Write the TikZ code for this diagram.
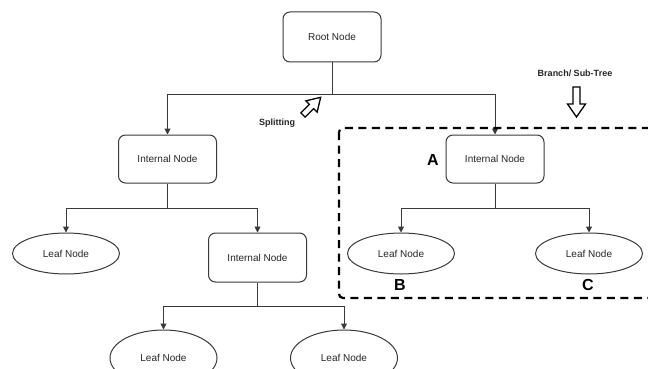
\documentclass[tikz,border=0pt]{standalone}
\usepackage{fontspec}
\setmainfont{Liberation Sans}
\usetikzlibrary{arrows.meta,shapes.geometric}
\definecolor{ln}{HTML}{3A3A3A}
\tikzset{
  box/.style={draw=ln, line width=1pt, rounded corners=7pt, minimum width=98pt, minimum height=48pt, inner sep=0pt, font=\fontsize{10}{12}\selectfont, text=black!85},
  leaf/.style={draw=ln, line width=1pt, ellipse, minimum width=107pt, minimum height=41pt, inner sep=0pt, font=\fontsize{10}{12}\selectfont, text=black!85},
  arr/.style={draw=ln, line width=1pt, -{Triangle[length=6pt,width=6pt]}},
  conn/.style={draw=ln, line width=1pt},
  biglbl/.style={font=\bfseries\fontsize{16}{18}\selectfont, inner sep=0pt},
  smalllbl/.style={font=\bfseries\fontsize{9}{10}\selectfont, text=black!85, inner sep=0pt},
  subtree/.style={draw=black, line width=2.2pt, dash pattern=on 8pt off 5.5pt, rounded corners=4pt},
  hollow/.style={draw=black, line width=1.3pt, fill=white, line join=miter}
}
\begin{document}
\begin{tikzpicture}[x=1pt,y=-1pt]
\clip (0,0) rectangle (648,369);
\fill[white] (0,0) rectangle (648,369);

% nodes
\node[box, minimum height=50pt] (root) at (332,37) {Root Node};
\node[box] (intL) at (167.5,159) {Internal Node};
\node[box] (intA) at (495,159) {Internal Node};
\node[box, minimum height=49pt] (int2) at (257.5,257.5) {Internal Node};
\node[leaf] (leafL) at (66,253.5) {Leaf Node};
\node[leaf] (leafB) at (401,253.5) {Leaf Node};
\node[leaf] (leafC) at (589,253.5) {Leaf Node};
\node[leaf, minimum height=56pt] (leafD) at (163.5,358) {Leaf Node};
\node[leaf, minimum height=56pt] (leafE) at (344,358) {Leaf Node};

% junctions
\coordinate (j0) at (332,94.5);
\coordinate (j1) at (167.5,208);
\coordinate (j2) at (495,208);
\coordinate (j3) at (257.5,306);

% connectors
\draw[conn] (root.south) -- (j0);
\draw[arr] (j0) -| (intL.north);
\draw[arr] (j0) -| (intA.north);
\draw[conn] (intL.south) -- (j1);
\draw[arr] (j1) -| (leafL.north);
\draw[arr] (j1) -| (int2.north);
\draw[conn] (intA.south) -- (j2);
\draw[arr] (j2) -| (leafB.north);
\draw[arr] (j2) -| (leafC.north);
\draw[conn] (int2.south) -- (j3);
\draw[arr] (j3) -| (leafD.north);
\draw[arr] (j3) -| (leafE.north);

% sub-tree frame
\coordinate (fr1) at (339,128);
\coordinate (fr2) at (660,298);
\draw[subtree] (fr1) rectangle (fr2);

% labels
\node[biglbl] (la) at (433,160) {A};
\node[biglbl] (lb) at (400,285) {B};
\node[biglbl] (lc) at (588,285) {C};
\node[smalllbl] (spl) at (277,123) {Splitting};
\node[smalllbl] (brl) at (575,73) {Branch/ Sub-Tree};

% hollow arrows
\draw[hollow] (573,87) -- (580,87) -- (580,104) -- (585.5,104) -- (576.5,117) -- (567.5,104) -- (573,104) -- cycle;
\begin{scope}[shift={(303,115)}, rotate=45]
\draw[hollow] (0,-3) -- (12,-3) -- (12,-8) -- (25,0) -- (12,8) -- (12,3) -- (0,3) -- cycle;
\end{scope}
\end{tikzpicture}
\end{document}
